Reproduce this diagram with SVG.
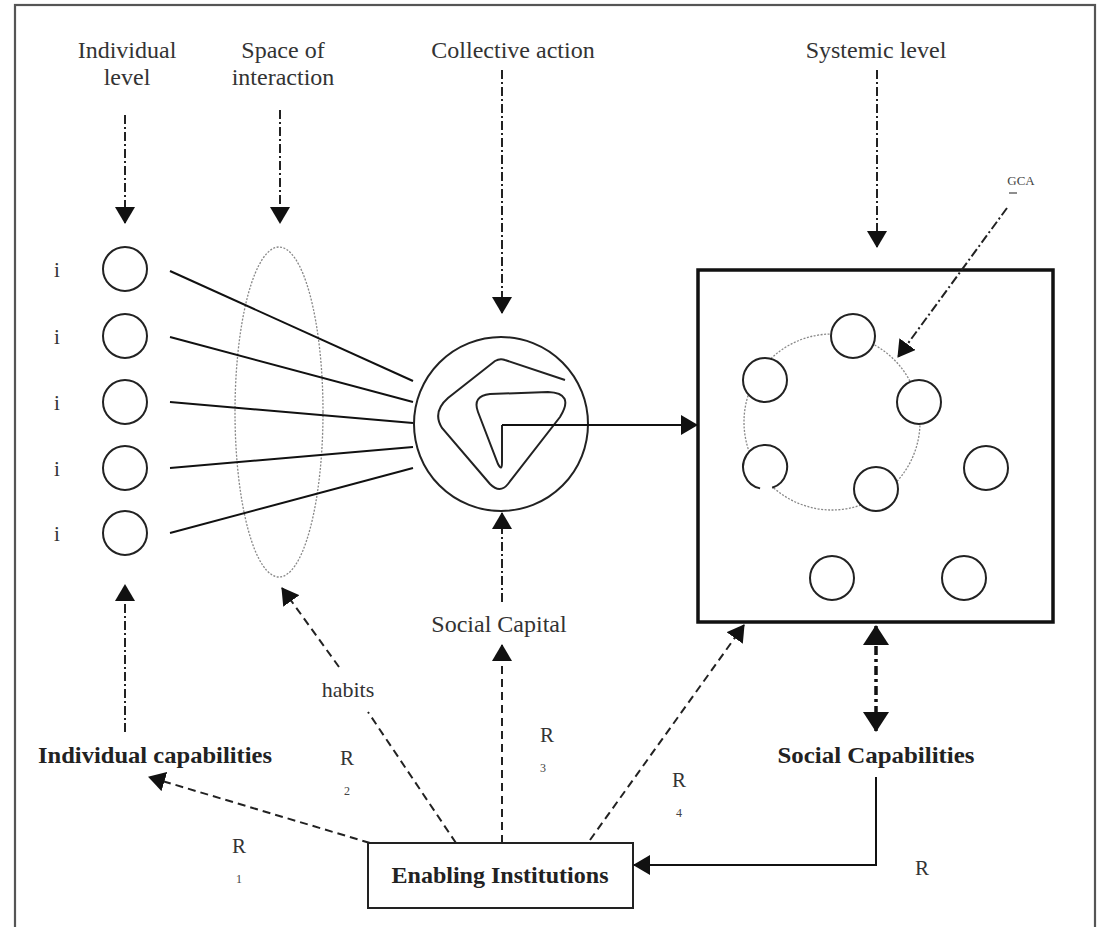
<svg xmlns="http://www.w3.org/2000/svg" width="1100" height="927" viewBox="0 0 1100 927">
  <defs>
    <style>
      .lbl { font-family: "Liberation Serif", "Times New Roman", serif; font-size: 24px; fill: #333; text-anchor: middle; }
      .bold { font-family: "Liberation Serif", "Times New Roman", serif; font-size: 23px; font-weight: bold; fill: #222; text-anchor: middle; }
      .r { font-family: "Liberation Serif", "Times New Roman", serif; font-size: 21px; fill: #333; text-anchor: middle; }
      .sub { font-family: "Liberation Serif", "Times New Roman", serif; font-size: 12px; fill: #444; text-anchor: middle; }
      .node { fill: none; stroke: #222; stroke-width: 2; }
      .member { fill: #fff; stroke: #222; stroke-width: 2; }
      .mask { fill: #fff; stroke: none; }
      .dotted { fill: none; stroke: #888; stroke-width: 1.3; stroke-dasharray: 2 1.5; }
      .solid { fill: none; stroke: #111; stroke-width: 2; }
      .dashdot { fill: none; stroke: #222; stroke-width: 2; stroke-dasharray: 9 3 2 3; }
      .dashed { fill: none; stroke: #222; stroke-width: 2; stroke-dasharray: 8 5; }
      .thickdd { fill: none; stroke: #111; stroke-width: 3.5; stroke-dasharray: 9 4 3 4; }
    </style>
    <marker id="head" markerUnits="userSpaceOnUse" viewBox="0 0 17 20" markerWidth="17" markerHeight="20" refX="16" refY="10" orient="auto">
      <path d="M0,0 L17,10 L0,20 z" fill="#111"/>
    </marker>
    <marker id="bighead" markerUnits="userSpaceOnUse" viewBox="0 0 20 26" markerWidth="20" markerHeight="26" refX="19" refY="13" orient="auto-start-reverse">
      <path d="M0,0 L20,13 L0,26 z" fill="#111"/>
    </marker>
  </defs>

  <rect width="1100" height="927" fill="#fff"/>
  <!-- outer frame -->
  <rect x="15" y="5" width="1080" height="940" fill="none" stroke="#555" stroke-width="2.2"/>

  <!-- level headings -->
  <g id="headings">
    <text class="lbl" x="127" y="58">Individual</text>
    <text class="lbl" x="127" y="85">level</text>
    <text class="lbl" x="283" y="58">Space of</text>
    <text class="lbl" x="283" y="85">interaction</text>
    <text class="lbl" x="513" y="58">Collective action</text>
    <text class="lbl" x="876" y="58">Systemic level</text>
  </g>

  <!-- individuals -->
  <g id="individuals">
    <circle class="node" cx="125" cy="269" r="22"/>
    <circle class="node" cx="125" cy="336" r="22"/>
    <circle class="node" cx="125" cy="402" r="22"/>
    <circle class="node" cx="125" cy="468" r="22"/>
    <circle class="node" cx="125" cy="533" r="22"/>
    <text class="r" x="57" y="277">i</text>
    <text class="r" x="57" y="344">i</text>
    <text class="r" x="57" y="410">i</text>
    <text class="r" x="57" y="476">i</text>
    <text class="r" x="57" y="541">i</text>
  </g>

  <!-- space of interaction -->
  <g id="interaction-space">
    <ellipse class="dotted" cx="279" cy="412" rx="44" ry="165"/>
  </g>

  <!-- collective action -->
  <g id="collective-action">
    <circle class="node" cx="501" cy="424" r="87"/>
    <path class="node" d="M565,380 L505,360 Q500,358 495,361 L448,398 Q432,412 442,428 L490,484 Q500,494 508,484 L560,417 Q575,393 548,392 L490,394 Q472,396 478,412 L498,464 Q502,472 502,462 L502,425"/>
  </g>

  <!-- systemic level -->
  <g id="systemic-level">
    <rect x="698" y="270" width="355" height="352" fill="none" stroke="#111" stroke-width="3.5"/>
    <circle class="dotted" cx="832" cy="422" r="88"/>
    <circle class="member" cx="853" cy="336" r="22"/>
    <circle class="member" cx="765" cy="380" r="22"/>
    <circle class="member" cx="919" cy="402" r="22"/>
    <circle class="mask" cx="765" cy="467" r="21"/>
    <path class="node" d="M772.2,487.8 A22,22 0 1 0 760.1,488.4"/>
    <circle class="member" cx="876" cy="489" r="22"/>
    <circle class="node" cx="986" cy="468" r="22"/>
    <circle class="node" cx="832" cy="578" r="22"/>
    <circle class="node" cx="964" cy="578" r="22"/>
  </g>

  <g id="gca">
    <text x="1021" y="185" style="font-family:'Liberation Serif',serif;font-size:13px;fill:#444;text-anchor:middle">GCA</text>
    <line x1="1009" y1="193" x2="1017" y2="193" stroke="#444" stroke-width="1.2"/>
  </g>

  <!-- lower labels -->
  <g id="individual-capabilities">
    <text class="bold" x="155" y="763" textLength="234" lengthAdjust="spacingAndGlyphs">Individual capabilities</text>
  </g>
  <g id="social-capabilities">
    <text class="bold" x="876" y="763" textLength="197" lengthAdjust="spacingAndGlyphs">Social Capabilities</text>
  </g>
  <g id="social-capital">
    <text class="lbl" x="499" y="632">Social Capital</text>
  </g>
  <g id="enabling-institutions">
    <rect x="368" y="843" width="265" height="65" fill="#fff" stroke="#222" stroke-width="2"/>
    <text class="bold" x="500" y="883" textLength="217" lengthAdjust="spacingAndGlyphs">Enabling Institutions</text>
  </g>

  <!-- connectors -->
  <g id="connectors">
    <line class="solid" x1="170" y1="271" x2="413" y2="381"/>
    <line class="solid" x1="170" y1="337" x2="413" y2="402"/>
    <line class="solid" x1="170" y1="402" x2="413" y2="423"/>
    <line class="solid" x1="170" y1="468" x2="413" y2="447"/>
    <line class="solid" x1="170" y1="533" x2="413" y2="468"/>

    <path class="dashdot" d="M125,115 L125,223" marker-end="url(#head)"/>
    <path class="dashdot" d="M280,110 L280,223" marker-end="url(#head)"/>
    <path class="dashdot" d="M502,70 L502,313" marker-end="url(#head)"/>
    <path class="dashdot" d="M877,70 L877,247" marker-end="url(#head)"/>
    <path class="dashdot" d="M1007,208 L898,357" marker-end="url(#head)"/>

    <path class="solid" d="M502,425 L697,425" marker-end="url(#head)"/>

    <path class="dashdot" d="M125,732 L125,585" marker-end="url(#head)"/>
    <path class="dashed" d="M339,667 L282,588" marker-end="url(#head)"/>
    <path class="dashed" d="M456,843 L368,712"/>
    <path class="dashed" d="M370,843 L149,777" marker-end="url(#head)"/>
    <path class="dashed" d="M502,843 L502,645" marker-end="url(#head)"/>
    <path class="dashdot" d="M502,602 L502,513" marker-end="url(#head)"/>
    <path class="dashed" d="M590,840 L744,625" marker-end="url(#head)"/>
    <path class="thickdd" d="M876,626 L876,731" marker-start="url(#bighead)" marker-end="url(#bighead)"/>
    <path class="solid" d="M876,777 L876,865 L634,865" marker-end="url(#head)"/>

    <text class="lbl" x="348" y="697" style="font-size:22px">habits</text>
    <text class="r" x="239" y="853">R</text>
    <text class="sub" x="239" y="883">1</text>
    <text class="r" x="347" y="765">R</text>
    <text class="sub" x="347" y="795">2</text>
    <text class="r" x="547" y="742">R</text>
    <text class="sub" x="543" y="772">3</text>
    <text class="r" x="679" y="787">R</text>
    <text class="sub" x="679" y="817">4</text>
    <text class="r" x="922" y="875">R</text>
  </g>
</svg>
